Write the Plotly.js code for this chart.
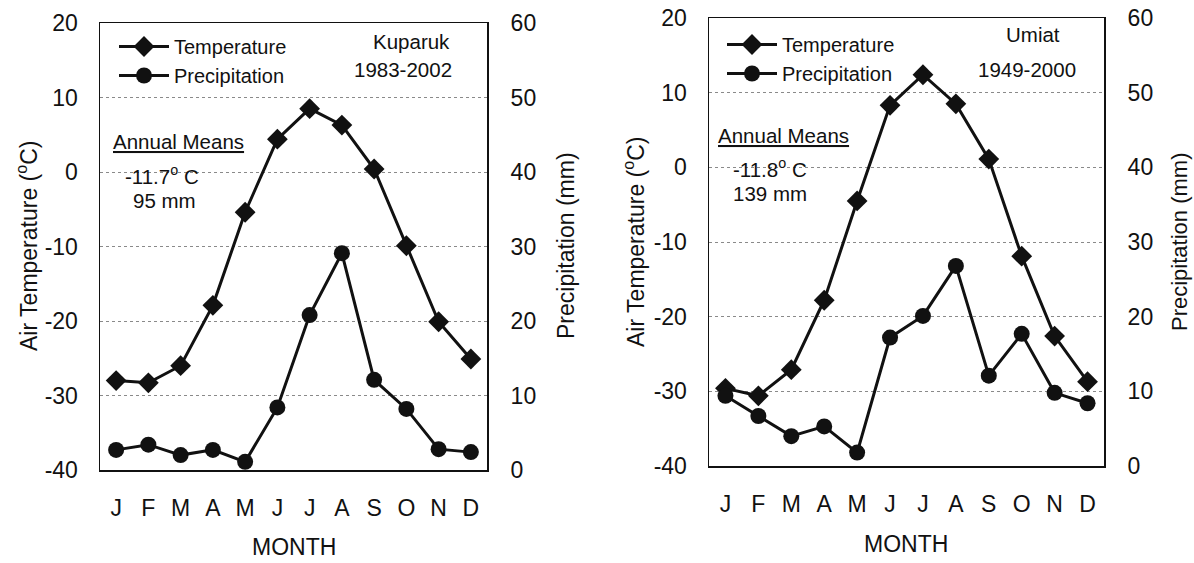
<!DOCTYPE html>
<html>
<head>
<meta charset="utf-8">
<script src="https://cdn.plot.ly/plotly-3.0.1.min.js"></script>
<style>html,body{margin:0;padding:0;background:#fff;}#chart{width:1194px;height:563px;}</style>
</head>
<body>
<div id="chart"></div>
<script>
// ---- data ----
var months = ['Jan','Feb','Mar','Apr','May','Jun','Jul','Aug','Sep','Oct','Nov','Dec'];
var monthLetters = ['J','F','M','A','M','J','J','A','S','O','N','D'];
var kuparukTemp = [-28.0, -28.3, -26.0, -17.9, -5.4, 4.4, 8.5, 6.3, 0.4, -9.9, -20.1, -25.1];
var kuparukPrecip = [2.7, 3.4, 2.0, 2.7, 1.1, 8.4, 20.8, 29.1, 12.1, 8.2, 2.8, 2.4];
var umiatTemp = [-29.6, -30.6, -27.1, -17.8, -4.5, 8.3, 12.4, 8.5, 1.1, -11.9, -22.6, -28.7];
var umiatPrecip = [9.4, 6.7, 4.0, 5.3, 1.8, 17.2, 20.1, 26.8, 12.1, 17.7, 9.8, 8.4];
var tempTicks = [-40, -30, -20, -10, 0, 10, 20];
var tempTickText = ['-40', '-30', '-20', '-10', '0', '10', '20'];
var precipTicks = [0, 10, 20, 30, 40, 50, 60];
var precipTickText = ['0', '10', '20', '30', '40', '50', '60'];

// ---- layout helpers ----
var W = 1194, H = 563;
function px(x){ return x / W; }
function py(y){ return 1 - y / H; }
var FONT = 'Arial, "Liberation Sans", sans-serif';
var INK = '#111';

function lineTrace(x, y, xa, ya, name, symbol, size, legend){
  return {
    type: 'scatter', mode: 'lines+markers', x: x, y: y, xaxis: xa, yaxis: ya,
    name: name, legend: legend,
    line: {color: INK, width: 3},
    marker: {symbol: symbol, size: size, color: INK}
  };
}

var data = [
  lineTrace(months, kuparukTemp, 'x', 'y', 'Temperature', 'diamond', 16, 'legend'),
  lineTrace(months, kuparukPrecip, 'x', 'y2', 'Precipitation', 'circle', 16, 'legend'),
  lineTrace(months, umiatTemp, 'x2', 'y3', 'Temperature', 'diamond', 16, 'legend2'),
  lineTrace(months, umiatPrecip, 'x2', 'y4', 'Precipitation', 'circle', 16, 'legend2')
];

function xAxis(domain, anchor){
  return {
    domain: domain, anchor: anchor, type: 'category', range: [-0.5, 11.5],
    tickvals: months, ticktext: monthLetters,
    ticks: 'outside', ticklen: 17, tickcolor: 'rgba(0,0,0,0)',
    tickfont: {family: FONT, size: 23, color: INK},
    showline: true, linecolor: INK, linewidth: 1.5, mirror: true,
    showgrid: false, zeroline: false, fixedrange: true
  };
}
function tempAxis(domain, anchor){
  return {
    domain: domain, anchor: anchor, range: [-40, 20], tickvals: tempTicks, ticktext: tempTickText,
    ticks: 'outside', ticklen: 16, tickcolor: 'rgba(0,0,0,0)',
    tickfont: {family: FONT, size: 23, color: INK},
    showline: true, linecolor: INK, linewidth: 1.5, mirror: true,
    showgrid: true, gridcolor: '#8a8a8a', gridwidth: 1, griddash: 'dot',
    zeroline: false, fixedrange: true
  };
}
function precipAxis(overlay, anchor){
  return {
    overlaying: overlay, anchor: anchor, side: 'right', range: [0, 60],
    tickvals: precipTicks, ticktext: precipTickText,
    ticks: 'outside', ticklen: 18, tickcolor: 'rgba(0,0,0,0)',
    tickfont: {family: FONT, size: 23, color: INK},
    showline: false, showgrid: false, zeroline: false, fixedrange: true
  };
}

var xd1 = [px(100), px(487)], yd1 = [py(470), py(23)];
var xd2 = [px(709), px(1104)], yd2 = [py(466), py(18)];

function ann(x, y, text, size, opts){
  var a = {xref: 'paper', yref: 'paper', x: px(x), y: py(y), text: text, showarrow: false,
    font: {family: FONT, size: size, color: INK}, xanchor: 'center', yanchor: 'middle'};
  for (var k in (opts || {})) a[k] = opts[k];
  return a;
}

var legendBase = {
  orientation: 'v', xanchor: 'left', yanchor: 'top', bgcolor: 'rgba(0,0,0,0)',
  font: {family: FONT, size: 20, color: INK}, itemwidth: 50, tracegroupgap: 0,
  itemclick: false, itemdoubleclick: false
};
var legend1 = Object.assign({}, legendBase, {x: px(114), y: py(27)});
var legend2 = Object.assign({}, legendBase, {x: px(722), y: py(25)});

var layout = {
  width: W, height: H,
  margin: {l: 0, r: 0, t: 0, b: 0, pad: 0},
  paper_bgcolor: '#fff', plot_bgcolor: '#fff',
  showlegend: true,
  legend: legend1,
  legend2: legend2,
  xaxis: xAxis(xd1, 'y'),
  yaxis: tempAxis(yd1, 'x'),
  yaxis2: precipAxis('y', 'x'),
  xaxis2: xAxis(xd2, 'y3'),
  yaxis3: tempAxis(yd2, 'x2'),
  yaxis4: precipAxis('y3', 'x2'),
  annotations: [
    ann(27, 246, 'Air Temperature (<sup>o</sup>C)', 23, {textangle: -90}),
    ann(566, 246, 'Precipitation (mm)', 23, {textangle: -90}),
    ann(294, 547, 'MONTH', 23),
    ann(411, 42, 'Kuparuk', 20.5),
    ann(403, 70, '1983-2002', 20.5),
    ann(178, 141, '<u>Annual Means</u>', 20.5),
    ann(162, 175, '-11.7<sup>o</sup> C', 20.5),
    ann(165, 200, '95 mm', 20.5),
    ann(634, 242, 'Air Temperature (<sup>o</sup>C)', 23, {textangle: -90}),
    ann(1179, 242, 'Precipitation (mm)', 22, {textangle: -90}),
    ann(906, 544, 'MONTH', 23),
    ann(1033, 34, 'Umiat', 20.5),
    ann(1027, 70, '1949-2000', 20.5),
    ann(783, 135, '<u>Annual Means</u>', 20.5),
    ann(731, 168, '-11.8<sup>o</sup> C', 20.5, {xanchor: 'left'}),
    ann(731, 193, '139 mm', 20.5, {xanchor: 'left'})
  ]
};

Plotly.newPlot('chart', data, layout, {staticPlot: true, displayModeBar: false});
</script>
</body>
</html>
